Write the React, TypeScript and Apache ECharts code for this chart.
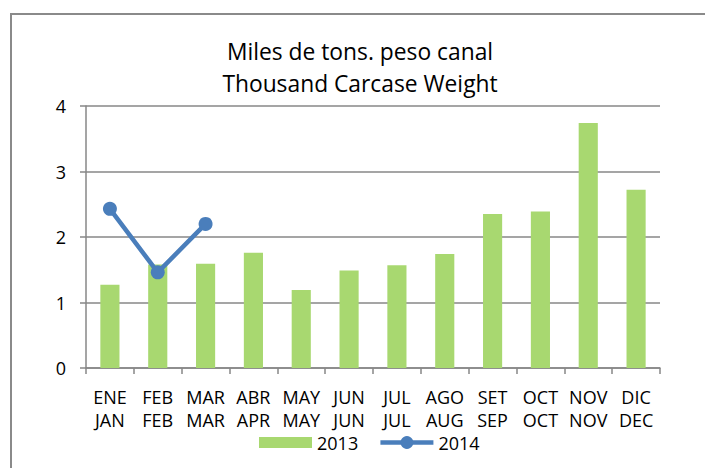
import React, { useEffect, useRef } from "react";
import * as echarts from "echarts";

const titleLines = ["Miles de tons. peso canal", "Thousand Carcase Weight"];
const monthsEs = ["ENE", "FEB", "MAR", "ABR", "MAY", "JUN", "JUL", "AGO", "SET", "OCT", "NOV", "DIC"];
const monthsEn = ["JAN", "FEB", "MAR", "APR", "MAY", "JUN", "JUL", "AUG", "SEP", "OCT", "NOV", "DEC"];
const values2013 = [1.27, 1.58, 1.59, 1.76, 1.19, 1.49, 1.57, 1.74, 2.35, 2.39, 3.74, 2.72];
const values2014 = [2.43, 1.46, 2.2];
const seriesNames = ["2013", "2014"];
const yTicks = { min: 0, max: 4, interval: 1 };

const FONT = "'Open Sans', sans-serif";
const AXIS_COLOR = "#878787";
const LINE_COLOR = "#4A7EBB";
const BAR_COLOR = "#A8D870";
// rect icon 53x11 centered inside a 53x16 legend box
const RECT_ICON = "path://M0,0L0,0M0,2.5L53,2.5L53,13.5L0,13.5ZM0,16L0,16";

export default function App() {
  const ref = useRef<HTMLDivElement>(null);
  useEffect(() => {
    if (!ref.current) return;
    const chart = echarts.init(ref.current, null, { renderer: "svg" });
    const categories = monthsEs.map((m, i) => m + "\n" + monthsEn[i]);
    chart.setOption({
      animation: false,
      backgroundColor: "#ffffff",
      textStyle: { fontFamily: FONT },
      graphic: [
        {
          type: "rect",
          shape: { x: 11, y: 14, width: 800, height: 600 },
          style: { fill: "none", stroke: "#8a8a8a", lineWidth: 2 },
          silent: true,
        },
      ],
      title: {
        text: titleLines.join("\n"),
        left: 360,
        top: 35,
        textAlign: "center",
        padding: 0,
        textStyle: {
          fontFamily: FONT,
          fontSize: 22.8,
          fontWeight: "normal",
          color: "#000",
          lineHeight: 32,
        },
      },
      legend: {
        left: 259,
        top: 433.5,
        padding: 0,
        itemWidth: 53,
        itemHeight: 16,
        itemGap: 20,
        textStyle: { fontFamily: FONT, fontSize: 18, lineHeight: 16, color: "#000" },
        data: [
          { name: seriesNames[0], icon: RECT_ICON, itemStyle: { color: BAR_COLOR } },
          {
            name: seriesNames[1],
            lineStyle: { width: 4.5, color: LINE_COLOR },
            itemStyle: { color: LINE_COLOR },
          },
        ],
      },
      grid: {
        left: 86,
        right: 45,
        top: 106,
        bottom: 100,
        containLabel: false,
        outerBoundsMode: "none",
      },
      xAxis: {
        type: "category",
        data: categories,
        axisLine: { show: true, lineStyle: { color: AXIS_COLOR, width: 1.5 } },
        axisTick: { show: true, length: 6, lineStyle: { color: AXIS_COLOR, width: 1.5 } },
        axisLabel: {
          interval: 0,
          margin: 17,
          fontFamily: FONT,
          fontSize: 18,
          lineHeight: 23,
          color: "#000",
        },
        splitLine: { show: false },
      },
      yAxis: {
        type: "value",
        min: yTicks.min,
        max: yTicks.max,
        interval: yTicks.interval,
        axisLine: { show: true, lineStyle: { color: AXIS_COLOR, width: 1.5 } },
        axisTick: { show: true, length: 6, lineStyle: { color: AXIS_COLOR, width: 1.5 } },
        axisLabel: { margin: 20, fontFamily: FONT, fontSize: 18, color: "#000" },
        splitLine: { show: true, lineStyle: { color: AXIS_COLOR, width: 1.5 } },
      },
      series: [
        {
          name: seriesNames[0],
          type: "bar",
          data: values2013,
          barCategoryGap: "60%",
          itemStyle: { color: BAR_COLOR },
        },
        {
          name: seriesNames[1],
          type: "line",
          data: values2014,
          symbol: "circle",
          symbolSize: 14,
          lineStyle: { color: LINE_COLOR, width: 4.5 },
          itemStyle: { color: LINE_COLOR },
        },
      ],
    });
    return () => chart.dispose();
  }, []);
  return (
    <div
      ref={ref}
      style={{ position: "fixed", left: 0, top: 0, width: 705, height: 468 }}
    />
  );
}
